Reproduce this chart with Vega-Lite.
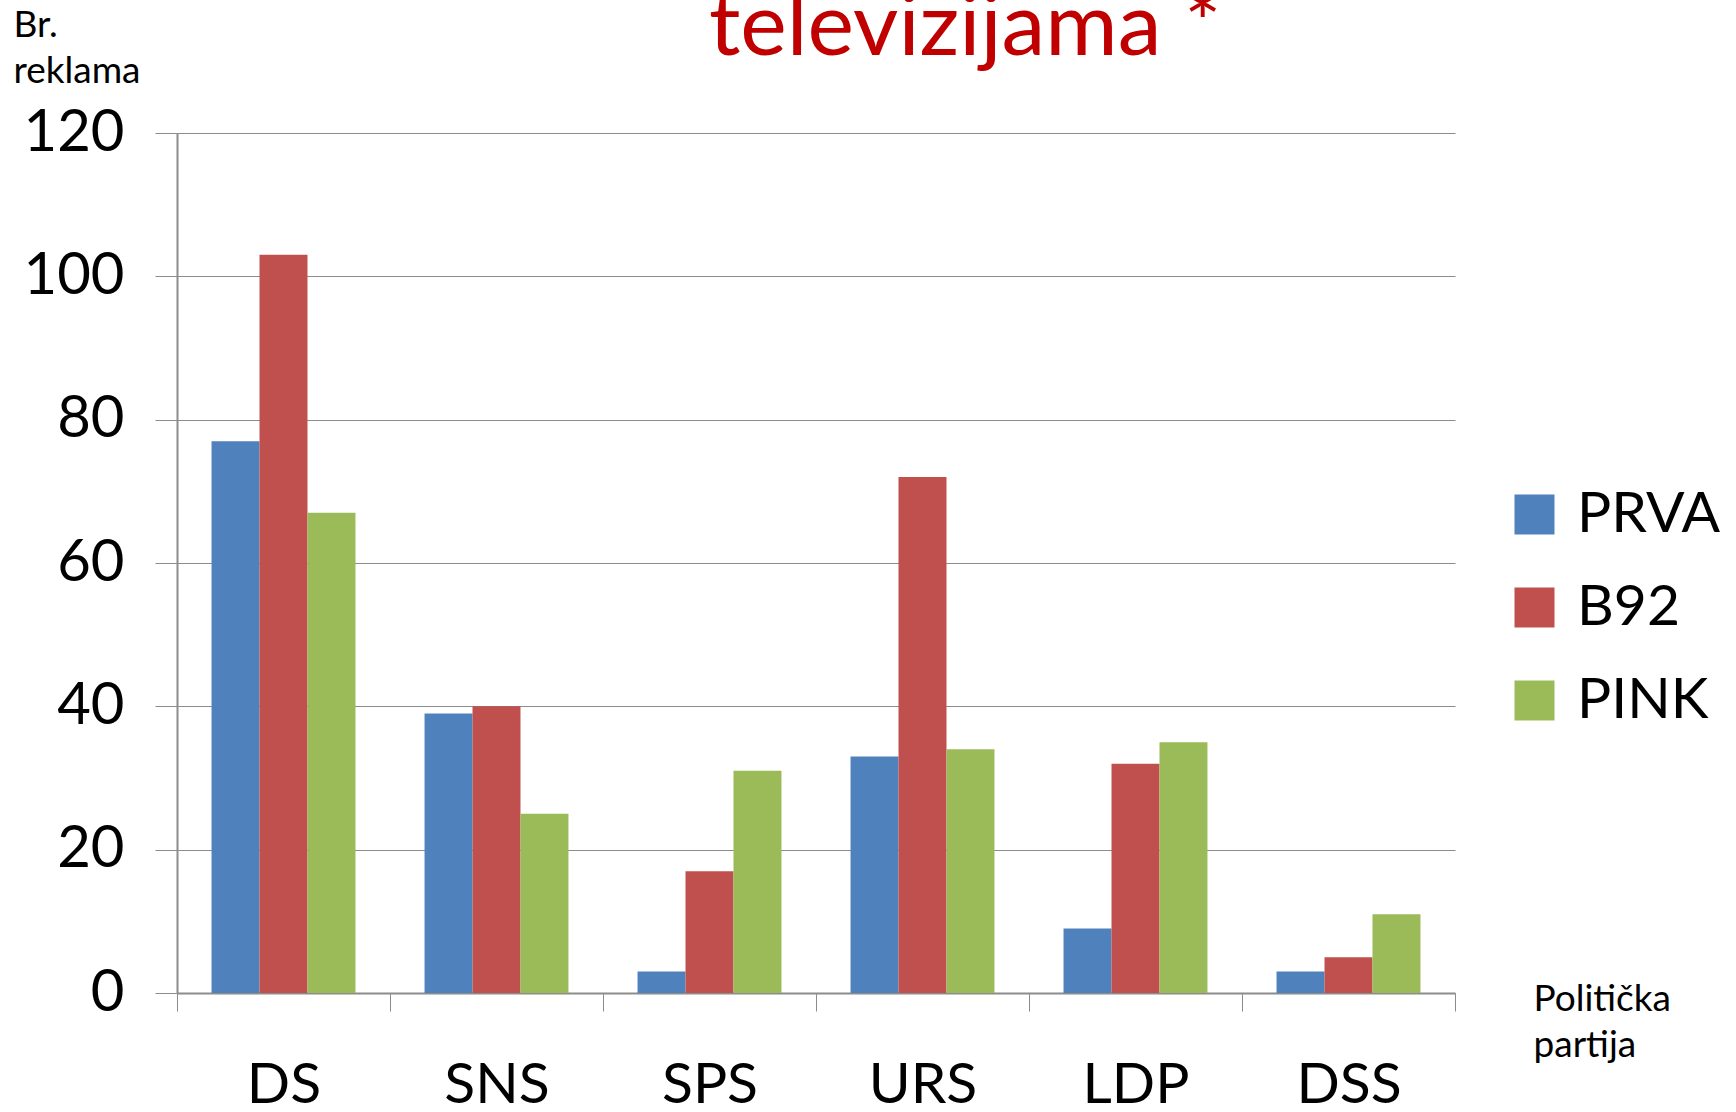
{
  "$schema": "https://vega.github.io/schema/vega-lite/v6.json",
  "autosize": "none",
  "width": 1278,
  "height": 860,
  "padding": {"left": 177, "top": 133, "right": 281, "bottom": 119},
  "background": "white",
  "title": {
    "text": "televizijama *",
    "color": "#C00000",
    "font": "Lato",
    "fontSize": 88,
    "fontWeight": "normal",
    "anchor": "start",
    "frame": "group",
    "orient": "top",
    "baseline": "alphabetic",
    "dx": 532,
    "offset": -137
  },
  "data": {
    "values": [
      {"partija": "DS", "tv": "PRVA", "n": 77},
      {"partija": "DS", "tv": "B92", "n": 103},
      {"partija": "DS", "tv": "PINK", "n": 67},
      {"partija": "SNS", "tv": "PRVA", "n": 39},
      {"partija": "SNS", "tv": "B92", "n": 40},
      {"partija": "SNS", "tv": "PINK", "n": 25},
      {"partija": "SPS", "tv": "PRVA", "n": 3},
      {"partija": "SPS", "tv": "B92", "n": 17},
      {"partija": "SPS", "tv": "PINK", "n": 31},
      {"partija": "URS", "tv": "PRVA", "n": 33},
      {"partija": "URS", "tv": "B92", "n": 72},
      {"partija": "URS", "tv": "PINK", "n": 34},
      {"partija": "LDP", "tv": "PRVA", "n": 9},
      {"partija": "LDP", "tv": "B92", "n": 32},
      {"partija": "LDP", "tv": "PINK", "n": 35},
      {"partija": "DSS", "tv": "PRVA", "n": 3},
      {"partija": "DSS", "tv": "B92", "n": 5},
      {"partija": "DSS", "tv": "PINK", "n": 11}
    ]
  },
  "mark": {"type": "bar"},
  "encoding": {
    "x": {
      "field": "partija",
      "type": "nominal",
      "sort": ["DS", "SNS", "SPS", "URS", "LDP", "DSS"],
      "scale": {"paddingInner": 0, "paddingOuter": 0},
      "axis": {
        "title": ["Politička", "partija"],
        "titleFont": "Lato",
        "titleFontSize": 37,
        "titleFontWeight": "normal",
        "titleColor": "black",
        "titleAlign": "left",
        "titleAnchor": "start",
        "titleBaseline": "top",
        "titleLineHeight": 46,
        "titleX": 1356,
        "titleY": -12,
        "labelAngle": 0,
        "labelFont": "Lato",
        "labelFontSize": 57,
        "labelColor": "black",
        "labelBaseline": "alphabetic",
        "labelPadding": 91,
        "tickBand": "extent",
        "tickSize": 18,
        "tickColor": "#8c8c8c",
        "domainColor": "#8c8c8c",
        "domainWidth": 2,
        "grid": false
      }
    },
    "xOffset": {
      "field": "tv",
      "type": "nominal",
      "sort": ["PRVA", "B92", "PINK"],
      "scale": {"paddingInner": 0, "paddingOuter": 0.72}
    },
    "y": {
      "field": "n",
      "type": "quantitative",
      "scale": {"domain": [0, 120], "nice": false},
      "axis": {
        "values": [0, 20, 40, 60, 80, 100, 120],
        "title": ["Br.", "reklama"],
        "titleFont": "Lato",
        "titleFontSize": 37,
        "titleFontWeight": "normal",
        "titleColor": "black",
        "titleAngle": 0,
        "titleAlign": "left",
        "titleAnchor": "start",
        "titleBaseline": "top",
        "titleLineHeight": 46,
        "titleX": -164,
        "titleY": -126,
        "labelFont": "Lato",
        "labelFontSize": 58,
        "labelColor": "black",
        "labelPadding": 31,
        "tickSize": 22,
        "tickColor": "#8c8c8c",
        "domainColor": "#8c8c8c",
        "domainWidth": 2,
        "gridColor": "#8c8c8c",
        "gridWidth": 1
      }
    },
    "color": {
      "field": "tv",
      "type": "nominal",
      "sort": ["PRVA", "B92", "PINK"],
      "scale": {"domain": ["PRVA", "B92", "PINK"], "range": ["#4F81BD", "#C0504D", "#9BBB59"]},
      "legend": {
        "title": null,
        "orient": "none",
        "legendX": 1329,
        "legendY": 353,
        "symbolType": "square",
        "symbolSize": 1600,
        "symbolStrokeWidth": 0,
        "labelFont": "Lato",
        "labelFontSize": 57,
        "labelColor": "black",
        "labelOffset": 14,
        "rowPadding": 35
      }
    }
  },
  "config": {
    "view": {"stroke": null}
  }
}
